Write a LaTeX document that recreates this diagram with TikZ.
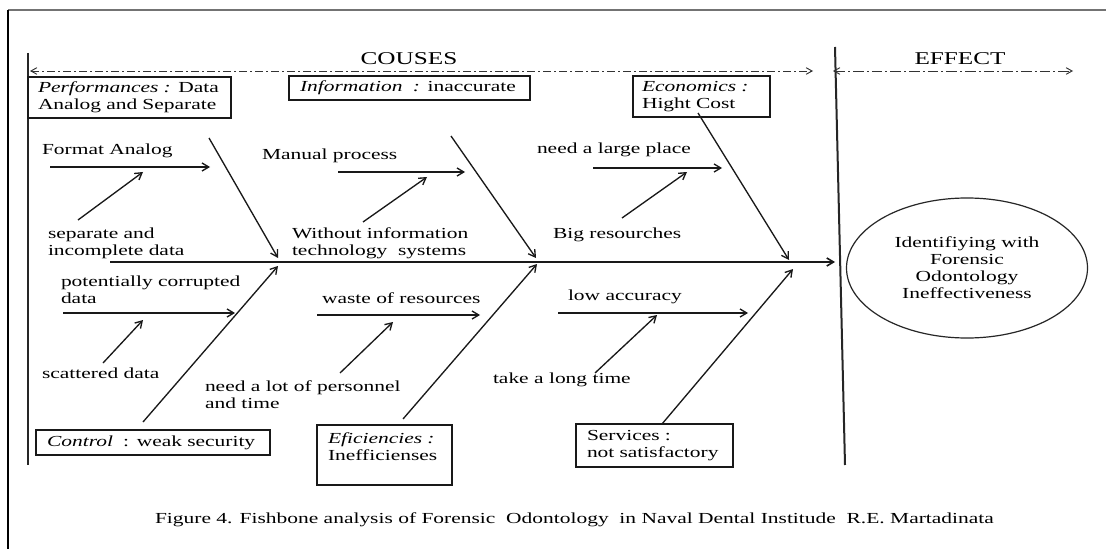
\documentclass[tikz,border=0pt]{standalone}
\usepackage{fontspec}
\setmainfont{Liberation Serif}[FakeStretch=1.4]
\usetikzlibrary{arrows.meta,shapes.geometric}
\begin{document}
\begin{tikzpicture}[x=0.75pt,y=-0.75pt,
  every node/.style={inner sep=0pt, outer sep=0pt, font=\fontsize{11.5}{12.75}\selectfont, text=black},
  lbl/.style={anchor=base west, align=left},
  catbox/.style={draw=black!90, line width=1.1pt, align=left},
  tip/.style={-{Straight Barb[length=5pt,width=6pt]}},
  bone/.style={draw=black!90, line width=1pt, tip},
  spine/.style={draw=black!85, line width=1.5pt},
  dd/.style={draw=black!80, line width=0.7pt, {Straight Barb[length=4.5pt,width=5pt]}-{Straight Barb[length=4.5pt,width=5pt]}},
  ddA/.style={dd, dash pattern=on 6pt off 2.25pt on 1.5pt off 2.25pt},
  ddB/.style={dd, dash pattern=on 8pt off 2.25pt on 1.5pt off 2.25pt},
  head/.style={font=\fontsize{13.5}{15}\selectfont}
]
\useasboundingbox (0,0) rectangle (1106,549);
\fill[white] (0,0) rectangle (1106,549);

% frame
\coordinate (fTL) at (8,10);
\coordinate (fTR) at (1106,10);
\coordinate (fBL) at (8,549);
\draw[black!55, line width=1.5pt] (fTL) -- (fTR);
\draw[black, line width=1.1pt] (fTL) -- (fBL);

% vertical lines
\coordinate (lsT) at (28,53);
\coordinate (lsB) at (28,465);
\coordinate (dvT) at (835,47);
\coordinate (dvB) at (845,465);
\draw[spine] (lsT) -- (lsB);
\draw[spine] (dvT) -- (dvB);

% headings
\node[head] (couses) at (409,59) {COUSES};
\node[head] (effect) at (960,59) {EFFECT};
\coordinate (cA) at (30,71);
\coordinate (cB) at (813,71);
\coordinate (eA) at (833,71);
\coordinate (eB) at (1073,71);
\draw[ddA] (cA) -- (cB);
\draw[ddB] (eA) -- (eB);

% category boxes
\node[catbox, minimum width=152.25pt, minimum height=30.75pt, text width=137.25pt, inner xsep=7.5pt] (perf) at (129.5,97.5) {\textit{Performances :} Data\\Analog and Separate};
\node[catbox, minimum width=180.75pt, minimum height=18pt, text width=164.25pt, inner xsep=8.25pt] (info) at (409.5,88) {\textit{Information\ \ :} inaccurate};
\node[catbox, minimum width=102.75pt, minimum height=30.75pt, text width=89.25pt, inner xsep=6.75pt] (econ) at (701.5,96.5) {\textit{Economics :}\\Hight Cost};
\node[catbox, minimum width=175.5pt, minimum height=18.75pt, text width=159pt, inner xsep=8.25pt] (ctrl) at (153,442.5) {\textit{Control}\ \ : weak security};
\node[catbox, minimum width=101.25pt, minimum height=45pt, text width=84.75pt, inner xsep=8.25pt] (effi) at (384.5,455) {\textit{Eficiencies :}\\Inefficienses\\\mbox{}};
\node[catbox, minimum width=117.75pt, minimum height=32.25pt, text width=101.25pt, inner xsep=8.25pt] (serv) at (654.5,445.5) {Services :\\not satisfactory};

% effect ellipse
\node[draw=black!85, line width=0.9pt, ellipse, minimum width=180.75pt, minimum height=105pt, align=center] (eff) at (967,268) {Identifiying with\\Forensic\\Odontology\\Ineffectiveness};

% main spine
\coordinate (msA) at (110,262);
\coordinate (msB) at (835,262);
\draw[bone, line width=1.2pt] (msA) -- (msB);

% labels (anchor = baseline of last line)
\node[lbl] (l1) at (42,155) {Format Analog};
\node[lbl] (l2) at (48,255) {separate and\\incomplete data};
\node[lbl] (l3) at (262,160) {Manual process};
\node[lbl] (l4) at (292,255) {Without information\\technology\ \ systems};
\node[lbl] (l5) at (537,154) {need a large place};
\node[lbl] (l6) at (553,238) {Big resourches};
\node[lbl] (l7) at (61,303) {potentially corrupted\\data};
\node[lbl] (l8) at (42,378) {scattered data};
\node[lbl] (l9) at (322,303) {waste of resources};
\node[lbl] (l10) at (205,408) {need a lot of personnel\\and time};
\node[lbl] (l11) at (568,300) {low accuracy};
\node[lbl] (l12) at (493,383) {take a long time};

% horizontal ribs
\coordinate (r1a) at (50,167);  \coordinate (r1b) at (210,167);
\coordinate (r2a) at (338,172); \coordinate (r2b) at (465,172);
\coordinate (r3a) at (593,168); \coordinate (r3b) at (722,168);
\coordinate (r4a) at (63,313);  \coordinate (r4b) at (235,313);
\coordinate (r5a) at (317,315); \coordinate (r5b) at (480,315);
\coordinate (r6a) at (558,313); \coordinate (r6b) at (748,313);
\draw[bone] (r1a) -- (r1b);
\draw[bone] (r2a) -- (r2b);
\draw[bone] (r3a) -- (r3b);
\draw[bone] (r4a) -- (r4b);
\draw[bone] (r5a) -- (r5b);
\draw[bone] (r6a) -- (r6b);

% diagonal ribs
\coordinate (d1a) at (78,220);  \coordinate (d1b) at (143,172);
\coordinate (d2a) at (363,222); \coordinate (d2b) at (427,177);
\coordinate (d3a) at (622,218); \coordinate (d3b) at (687,172);
\coordinate (d4a) at (103,363); \coordinate (d4b) at (143,320);
\coordinate (d5a) at (340,373); \coordinate (d5b) at (393,322);
\coordinate (d6a) at (595,373); \coordinate (d6b) at (657,315);
\draw[bone] (d1a) -- (d1b);
\draw[bone] (d2a) -- (d2b);
\draw[bone] (d3a) -- (d3b);
\draw[bone] (d4a) -- (d4b);
\draw[bone] (d5a) -- (d5b);
\draw[bone] (d6a) -- (d6b);

% main bones
\coordinate (b1a) at (209,138); \coordinate (b1b) at (278,258);
\coordinate (b2a) at (451,136); \coordinate (b2b) at (536,258);
\coordinate (b3a) at (698,113); \coordinate (b3b) at (789,260);
\coordinate (b4a) at (143,422); \coordinate (b4b) at (278,266);
\coordinate (b5a) at (403,419); \coordinate (b5b) at (537,264);
\coordinate (b6a) at (662,424); \coordinate (b6b) at (793,269);
\draw[bone] (b1a) -- (b1b);
\draw[bone] (b2a) -- (b2b);
\draw[bone] (b3a) -- (b3b);
\draw[bone] (b4a) -- (b4b);
\draw[bone] (b5a) -- (b5b);
\draw[bone] (b6a) -- (b6b);

% caption
\node[lbl] (cap) at (155,523) {Figure 4. Fishbone analysis of Forensic\ \ Odontology\ \ in Naval Dental Institude\ \ R.E. Martadinata};
\end{tikzpicture}
\end{document}
